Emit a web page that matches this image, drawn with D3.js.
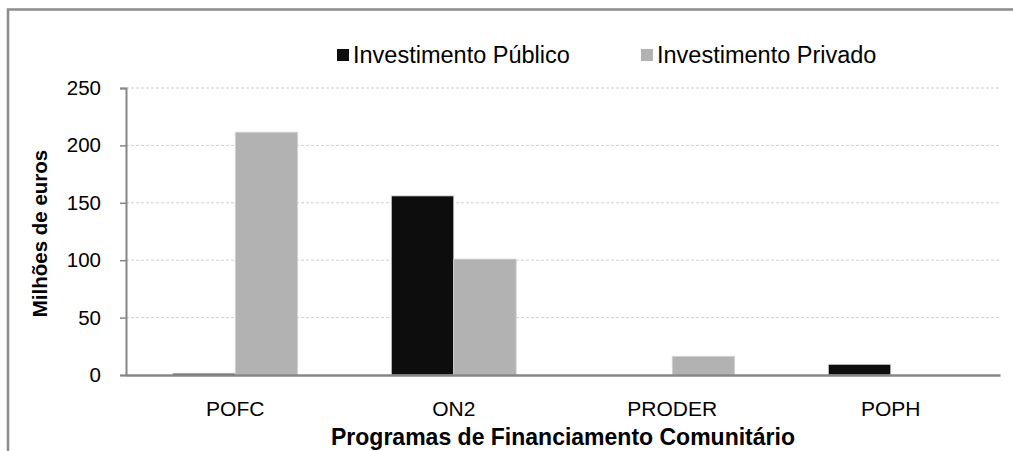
<!DOCTYPE html>
<html>
<head>
<meta charset="utf-8">
<script src="https://cdn.jsdelivr.net/npm/d3@7"></script>
<style>
  body { margin: 0; background: #fff; }
  svg { display: block; font-family: "Liberation Sans", Arial, sans-serif; }
</style>
</head>
<body>
<svg id="chart" width="1013" height="451"></svg>
<script>
// Chart data
const categories = ["POFC", "ON2", "PRODER", "POPH"];
const seriesNames = ["Investimento Público", "Investimento Privado"];
const publico = [1.5, 156, 0, 9.3];
const privado = [211.5, 101, 16.3, 0];
const yTicks = [0, 50, 100, 150, 200, 250];

const colors = ["#0d0d0d", "#b2b2b2"];

const svg = d3.select("#chart");
const margin = { left: 126, right: 13, top: 88, bottom: 76 };
const width = 1013, height = 451;

// outer frame (only top and left visible in the crop)
svg.append("rect")
  .attr("x", 8).attr("y", 9.5)
  .attr("width", 1200).attr("height", 600)
  .attr("fill", "none")
  .attr("stroke", "#8c8c8c")
  .attr("stroke-width", 2.5);

const x = d3.scaleBand()
  .domain(categories)
  .range([margin.left, width - margin.right])
  .paddingInner(0)
  .paddingOuter(0);

// 2 bars per group, gap width ~150%
const x1 = d3.scaleBand()
  .domain([0, 1])
  .range([0, x.bandwidth()])
  .paddingInner(0)
  .paddingOuter(0.75);

const y = d3.scaleLinear()
  .domain([0, 250])
  .range([height - margin.bottom, margin.top]);

// gridlines
svg.append("g")
  .selectAll("line")
  .data(yTicks.filter(d => d > 0))
  .enter().append("line")
  .attr("x1", margin.left).attr("x2", width - margin.right)
  .attr("y1", d => y(d)).attr("y2", d => y(d))
  .attr("stroke", "#cfcfcf")
  .attr("stroke-dasharray", "3,2")
  .attr("stroke-width", 1);

// bars
const rows = categories.map((c, i) => ({ cat: c, vals: [publico[i], privado[i]] }));
svg.append("g")
  .selectAll("g")
  .data(rows)
  .enter().append("g")
  .attr("transform", d => `translate(${x(d.cat)},0)`)
  .selectAll("rect")
  .data(d => d.vals.map((v, k) => ({ v, k })).filter(e => e.v > 0))
  .enter().append("rect")
  .attr("x", d => x1(d.k))
  .attr("width", x1.bandwidth())
  .attr("y", d => y(d.v))
  .attr("height", d => y(0) - y(d.v))
  .attr("fill", d => colors[d.k])
  .attr("stroke", "#d4d4d4")
  .attr("stroke-width", 0.8);

// y axis
const yAxis = d3.axisLeft(y).tickValues(yTicks).tickSize(6).tickPadding(19);
const gy = svg.append("g")
  .attr("transform", `translate(${margin.left},0)`)
  .call(yAxis);
gy.select(".domain").attr("stroke", "#868686").attr("stroke-width", 2);
gy.selectAll(".tick line").attr("stroke", "#868686").attr("stroke-width", 1.5);
gy.selectAll(".tick text")
  .attr("font-size", 20.5)
  .attr("fill", "#000")
  .style("font-family", "Liberation Sans, Arial, sans-serif");

// x axis
const xAxis = d3.axisBottom(x).tickSize(0).tickPadding(26);
const gx = svg.append("g")
  .attr("transform", `translate(0,${y(0)})`)
  .call(xAxis);
gx.select(".domain").attr("stroke", "#868686").attr("stroke-width", 2.5);
gx.selectAll(".tick text")
  .attr("font-size", 21)
  .attr("fill", "#000")
  .style("font-family", "Liberation Sans, Arial, sans-serif");

// axis titles
svg.append("text")
  .attr("transform", `translate(47,${(y(0) + y(250)) / 2 + 2}) rotate(-90)`)
  .attr("text-anchor", "middle")
  .attr("font-size", 20.5)
  .attr("font-weight", "bold")
  .text("Milhões de euros");

svg.append("text")
  .attr("x", (margin.left + width - margin.right) / 2)
  .attr("y", 445)
  .attr("text-anchor", "middle")
  .attr("font-size", 23)
  .attr("font-weight", "bold")
  .text("Programas de Financiamento Comunitário");

// legend
const legendX = [337, 641];
const legend = svg.append("g")
  .selectAll("g")
  .data(seriesNames)
  .enter().append("g")
  .attr("transform", (d, i) => `translate(${legendX[i]},49)`);
legend.append("rect")
  .attr("width", 12).attr("height", 12)
  .attr("fill", (d, i) => colors[i]);
legend.append("text")
  .attr("x", 16).attr("y", 14)
  .attr("font-size", 23.5)
  .text(d => d);
</script>
</body>
</html>
